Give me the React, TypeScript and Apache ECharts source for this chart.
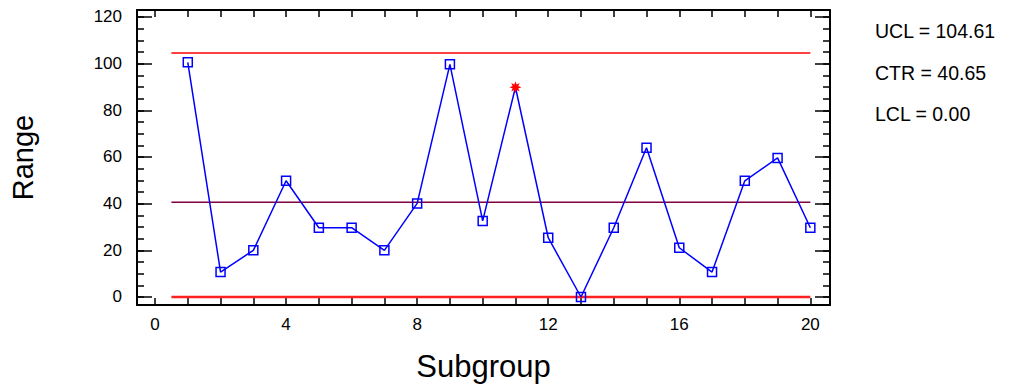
import React, { useEffect, useRef } from "react";
import * as echarts from "echarts";

// ---- data ----
const subgroups = [1, 2, 3, 4, 5, 6, 7, 8, 9, 10, 11, 12, 13, 14, 15, 16, 17, 18, 19, 20];
const ranges = [100.6, 10.7, 20, 49.8, 29.7, 29.7, 20, 40.1, 99.7, 32.6, 89.9, 25.4, 0, 29.7, 64, 21.1, 10.7, 49.8, 59.6, 29.7];
const flagged = [11];
const ucl = 104.61;
const ctr = 40.65;
const lcl = 0.0;
const limitStart = 0.5;
const limitEnd = 20;
const xTickLabels = [0, 4, 8, 12, 16, 20];
const xTicks = [0, 1, 2, 3, 4, 5, 6, 7, 8, 9, 10, 11, 12, 13, 14, 15, 16, 17, 18, 19, 20];
const yTickLabels = [0, 20, 40, 60, 80, 100, 120];
const yMinorTicks = [0, 5, 10, 15, 20, 25, 30, 35, 40, 45, 50, 55, 60, 65, 70, 75, 80, 85, 90, 95, 100, 105, 110, 115, 120];

const FONT = "'Liberation Sans', Arial, sans-serif";

// 8-point burst symbol shape
function starPath(): string {
  const pts: string[] = [];
  for (let i = 0; i < 16; i++) {
    const a = (Math.PI * 2 * i) / 16;
    const r = i % 2 === 0 ? 10 : 5;
    pts.push(`${(10 + r * Math.cos(a)).toFixed(2)} ${(10 + r * Math.sin(a)).toFixed(2)}`);
  }
  return "path://M" + pts.join(" L") + " Z";
}

export default function App() {
  const ref = useRef<HTMLDivElement>(null);
  useEffect(() => {
    document.body.style.margin = "0";
    if (!ref.current) return;
    const chart = echarts.init(ref.current, undefined, { renderer: "svg" });
    const X_MIN = -0.55, X_MAX = 20.6, Y_MIN = -3.43, Y_MAX = 123;
    const axisLine = { show: true, onZero: false, lineStyle: { color: "#000", width: 2 } };
    const noLine = { show: false, onZero: false };
    const tickLine = { color: "#000", width: 1.5 };
    const star = starPath();
    const data = subgroups.map((s, i) => {
      if (flagged.includes(s)) {
        return {
          value: [s, ranges[i]],
          symbol: star,
          symbolSize: 12,
          itemStyle: { color: "#ff0000", borderWidth: 0 },
        };
      }
      return { value: [s, ranges[i]] };
    });
    const limitSeries = (val: number, color: string, width: number) => ({
      type: "line",
      data: [[limitStart, val], [limitEnd, val]],
      symbol: "none",
      silent: true,
      lineStyle: { color, width },
      z: 1,
    });
    const yAxisBase = {
      type: "value",
      min: Y_MIN,
      max: Y_MAX,
      splitLine: { show: false },
      axisLabel: { show: false },
    };
    chart.setOption({
      animation: false,
      grid: { left: 137, right: 181, top: 10, bottom: 83, containLabel: false },
      xAxis: [
        {
          type: "value",
          position: "bottom",
          min: X_MIN,
          max: X_MAX,
          axisLine,
          axisTick: { show: true, inside: true, length: 7, customValues: xTicks, lineStyle: tickLine },
          axisLabel: { customValues: xTickLabels, fontSize: 17, color: "#000", fontFamily: FONT, margin: 11 },
          splitLine: { show: false },
          name: "Subgroup",
          nameLocation: "middle",
          nameGap: 46,
          nameTextStyle: { fontSize: 31, color: "#000", fontFamily: FONT },
        },
        {
          type: "value",
          position: "top",
          min: X_MIN,
          max: X_MAX,
          axisLine,
          axisTick: { show: true, inside: true, length: 7, customValues: xTicks, lineStyle: tickLine },
          axisLabel: { show: false },
          splitLine: { show: false },
        },
      ],
      yAxis: [
        {
          ...yAxisBase,
          position: "left",
          axisLine,
          axisTick: { show: true, inside: true, length: 15, customValues: yTickLabels, lineStyle: tickLine },
          axisLabel: { customValues: yTickLabels, fontSize: 17, color: "#000", fontFamily: FONT, margin: 15 },
          name: "Range",
          nameLocation: "middle",
          nameGap: 100,
          nameRotate: 90,
          nameTextStyle: { fontSize: 29, color: "#000", fontFamily: FONT },
        },
        {
          ...yAxisBase,
          position: "left",
          axisLine: noLine,
          axisTick: { show: true, inside: true, length: 7, customValues: yMinorTicks, lineStyle: tickLine },
        },
        {
          ...yAxisBase,
          position: "right",
          axisLine,
          axisTick: { show: true, inside: true, length: 15, customValues: yTickLabels, lineStyle: tickLine },
        },
        {
          ...yAxisBase,
          position: "right",
          axisLine: noLine,
          axisTick: { show: true, inside: true, length: 7, customValues: yMinorTicks, lineStyle: tickLine },
        },
      ],
      series: [
        limitSeries(ucl, "#ff0000", 1.5),
        limitSeries(ctr, "#800040", 1.5),
        limitSeries(lcl, "#ff2020", 2.5),
        {
          type: "line",
          data,
          symbol: "rect",
          symbolSize: 9,
          itemStyle: { color: "transparent", borderColor: "#0000ff", borderWidth: 1.5 },
          lineStyle: { color: "#0000ff", width: 1.5 },
          z: 3,
        },
      ],
      graphic: [
        { type: "text", x: 875, y: 31, style: { text: `UCL = ${ucl.toFixed(2)}`, fontSize: 19.5, fontFamily: FONT, fill: "#000", verticalAlign: "middle" } },
        { type: "text", x: 875, y: 73, style: { text: `CTR = ${ctr.toFixed(2)}`, fontSize: 19.5, fontFamily: FONT, fill: "#000", verticalAlign: "middle" } },
        { type: "text", x: 875, y: 114, style: { text: `LCL = ${lcl.toFixed(2)}`, fontSize: 19.5, fontFamily: FONT, fill: "#000", verticalAlign: "middle" } },
      ],
    });
    return () => chart.dispose();
  }, []);
  return <div ref={ref} style={{ width: 1011, height: 388 }} />;
}
